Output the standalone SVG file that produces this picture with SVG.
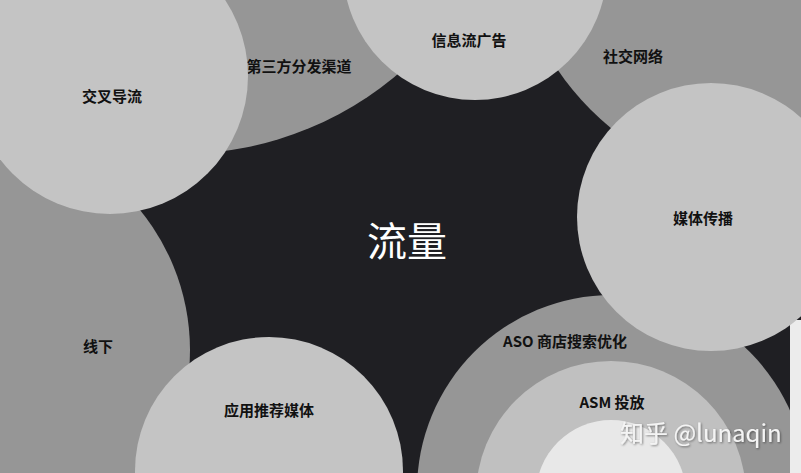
<svg xmlns="http://www.w3.org/2000/svg" width="801" height="473" viewBox="0 0 801 473">
<defs>
<style>
.light{fill:#c4c4c4}
.mid{fill:#969696}
.asm{fill:#c0c0c0}
.core{fill:#e8e8e8}
.lbl{font-family:"Noto Sans CJK SC","Noto Sans",sans-serif;font-weight:bold;font-size:15px;fill:#111;text-anchor:middle}
.title{font-family:"Noto Sans CJK SC","Noto Sans",sans-serif;font-size:40px;fill:#ffffff;text-anchor:middle}
.wm{font-family:"Noto Sans CJK SC","Noto Sans",sans-serif;font-size:24px;fill:#f4f4f4;text-anchor:start}
</style>
<filter id="shadow" x="-10%" y="-30%" width="120%" height="160%">
<feDropShadow dx="1" dy="1" stdDeviation="1" flood-color="#000" flood-opacity="0.45"/>
</filter>
</defs>
<rect x="0" y="0" width="801" height="473" fill="#1f1f23"/>
<g id="offline">
<circle class="mid" cx="-31" cy="350" r="221"/>
<text class="lbl" x="98" y="352">线下</text>
</g>
<g id="third-party">
<circle class="mid" cx="180" cy="-183" r="337"/>
<text class="lbl" x="299" y="72">第三方分发渠道</text>
</g>
<g id="social">
<circle class="mid" cx="780" cy="-80" r="268"/>
<text class="lbl" x="633" y="62">社交网络</text>
</g>
<g id="aso">
<circle class="mid" cx="612" cy="490" r="195"/>
<text class="lbl" x="565" y="347">ASO 商店搜索优化</text>
</g>
<g id="asm">
<circle class="asm" cx="611" cy="496" r="135"/>
<circle class="core" cx="611" cy="495" r="75"/>
<text class="lbl" x="612" y="408">ASM 投放</text>
</g>
<rect x="790" y="320" width="11" height="153" fill="#ececec"/>
<g id="cross">
<circle class="light" cx="110" cy="76" r="138"/>
<text class="lbl" x="112" y="102">交叉导流</text>
</g>
<g id="feed">
<circle class="light" cx="475" cy="-32" r="132"/>
<text class="lbl" x="469" y="46">信息流广告</text>
</g>
<g id="media">
<circle class="light" cx="711" cy="217" r="134"/>
<text class="lbl" x="703" y="224">媒体传播</text>
</g>
<g id="app">
<circle class="light" cx="269" cy="471" r="134"/>
<text class="lbl" x="269" y="416">应用推荐媒体</text>
</g>
<g id="traffic">
<text class="title" x="407" y="256">流量</text>
</g>
<text class="wm" x="620" y="442" filter="url(#shadow)">知乎 @lunaqin</text>
</svg>
